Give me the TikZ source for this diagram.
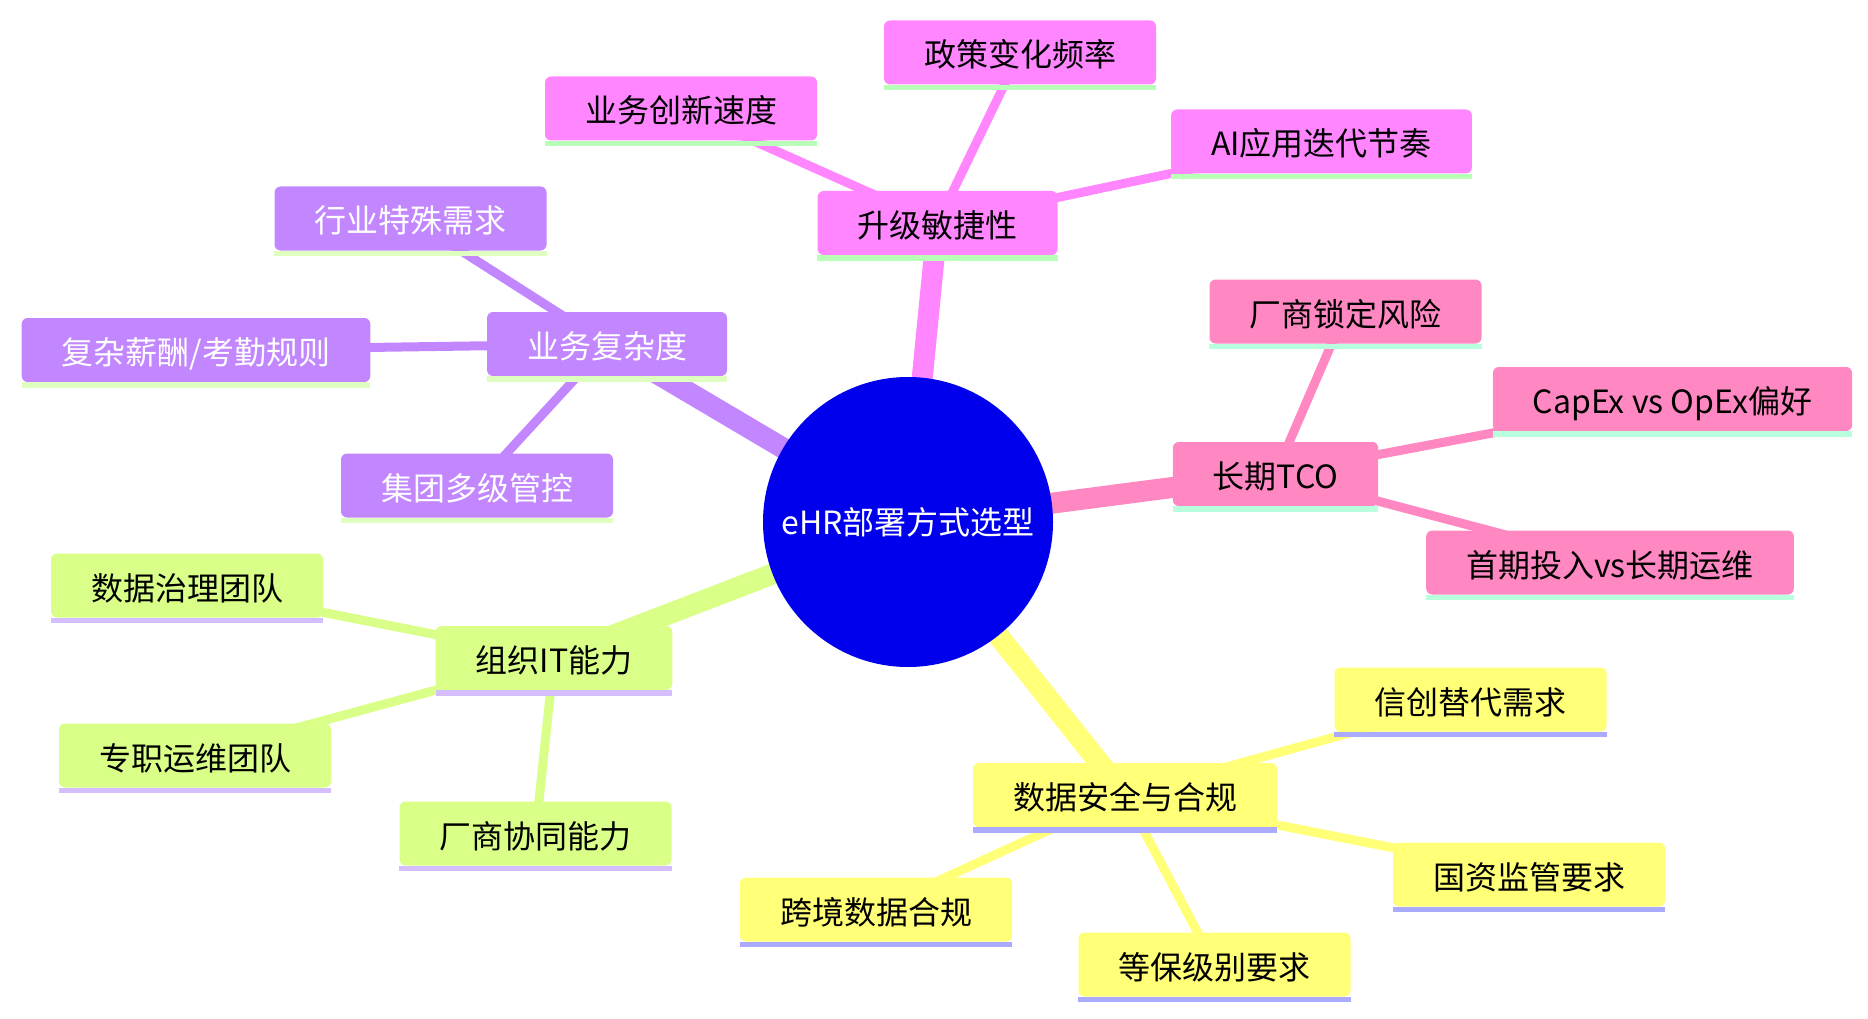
\documentclass[tikz,border=0pt]{standalone}
\usepackage{fontspec}
\newfontfamily\cjk{Noto Sans CJK SC}
\usetikzlibrary{backgrounds}
\definecolor{rootc}{RGB}{0,0,236}
\definecolor{purc}{RGB}{194,134,255}
\definecolor{purbar}{RGB}{222,255,192}
\definecolor{magc}{RGB}{255,134,255}
\definecolor{magbar}{RGB}{184,255,184}
\definecolor{pinkc}{RGB}{255,136,194}
\definecolor{pinkbar}{RGB}{184,255,222}
\definecolor{grnc}{RGB}{217,255,136}
\definecolor{grnbar}{RGB}{212,190,255}
\definecolor{yelc}{RGB}{255,255,120}
\definecolor{yelbar}{RGB}{170,170,255}
\tikzset{
  mm/.style={rounded corners=6, minimum height=64, inner xsep=40, inner ysep=0,
    text height=30, text depth=1,
    font=\cjk\fontsize{32}{38}\selectfont, anchor=center},
  purn/.style={mm, fill=purc, text=white},
  magn/.style={mm, fill=magc, text=black},
  pinkn/.style={mm, fill=pinkc, text=black},
  grnn/.style={mm, fill=grnc, text=black},
  yeln/.style={mm, fill=yelc, text=black},
  rootn/.style={circle, fill=rootc, text=white, minimum size=290, inner sep=0,
    font=\cjk\fontsize{32}{38}\selectfont},
  bar/.style={line width=5.5},
  rootedge/.style={line width=21},
  leafedge/.style={line width=9},
}
\newcommand{\mmbar}[2]{\draw[bar,#2] ([yshift=-2.75]#1.south west) -- ([yshift=-2.75]#1.south east);}
\begin{document}
\begin{tikzpicture}[x=1pt,y=-1pt]
\useasboundingbox (0,0) rectangle (1868,1019);
% root
\node[rootn] (root) at (908,522) {eHR部署方式选型};
% 升级敏捷性
\node[magn] (sj) at (937.5,223) {升级敏捷性};
\node[magn] (zc) at (1020,52.5) {政策变化频率};
\node[magn] (yw) at (681,108.5) {业务创新速度};
\node[magn] (ai) at (1321.5,141.5) {AI应用迭代节奏};
% 长期TCO
\node[pinkn] (tco) at (1275.5,474) {长期TCO};
\node[pinkn] (cs) at (1345.5,311.5) {厂商锁定风险};
\node[pinkn] (cap) at (1672.5,399) {CapEx vs OpEx偏好};
\node[pinkn] (sq) at (1610,562.5) {首期投入vs长期运维};
% 业务复杂度
\node[purn] (fz) at (607,344) {业务复杂度};
\node[purn] (hy) at (410.5,218.5) {行业特殊需求};
\node[purn] (xc) at (196,350) {复杂薪酬/考勤规则};
\node[purn] (jt) at (477,485.5) {集团多级管控};
% 组织IT能力
\node[grnn] (it) at (554,658) {组织IT能力};
\node[grnn] (zl) at (187,585.5) {数据治理团队};
\node[grnn] (yx) at (195,755.5) {专职运维团队};
\node[grnn] (xt) at (535.5,833.5) {厂商协同能力};
% 数据安全与合规
\node[yeln] (aq) at (1125,795) {数据安全与合规};
\node[yeln] (xcd) at (1470.5,699.5) {信创替代需求};
\node[yeln] (gz) at (1529,874.5) {国资监管要求};
\node[yeln] (kj) at (876,909.5) {跨境数据合规};
\node[yeln] (db) at (1214.5,964.5) {等保级别要求};
% bars
\mmbar{sj}{magbar}\mmbar{zc}{magbar}\mmbar{yw}{magbar}\mmbar{ai}{magbar}
\mmbar{tco}{pinkbar}\mmbar{cs}{pinkbar}\mmbar{cap}{pinkbar}\mmbar{sq}{pinkbar}
\mmbar{fz}{purbar}\mmbar{hy}{purbar}\mmbar{xc}{purbar}\mmbar{jt}{purbar}
\mmbar{it}{grnbar}\mmbar{zl}{grnbar}\mmbar{yx}{grnbar}\mmbar{xt}{grnbar}
\mmbar{aq}{yelbar}\mmbar{xcd}{yelbar}\mmbar{gz}{yelbar}\mmbar{kj}{yelbar}\mmbar{db}{yelbar}
\begin{pgfonlayer}{background}
\draw[rootedge,magc] (root.center) -- (sj.center);
\draw[rootedge,pinkc] (root.center) -- (tco.center);
\draw[rootedge,purc] (root.center) -- (fz.center);
\draw[rootedge,grnc] (root.center) -- (it.center);
\draw[rootedge,yelc] (root.center) -- (aq.center);
\draw[leafedge,magc] (sj.center) -- (zc.center);
\draw[leafedge,magc] (sj.center) -- (yw.center);
\draw[leafedge,magc] (sj.center) -- (ai.center);
\draw[leafedge,pinkc] (tco.center) -- (cs.center);
\draw[leafedge,pinkc] (tco.center) -- (cap.center);
\draw[leafedge,pinkc] (tco.center) -- (sq.center);
\draw[leafedge,purc] (fz.center) -- (hy.center);
\draw[leafedge,purc] (fz.center) -- (xc.center);
\draw[leafedge,purc] (fz.center) -- (jt.center);
\draw[leafedge,grnc] (it.center) -- (zl.center);
\draw[leafedge,grnc] (it.center) -- (yx.center);
\draw[leafedge,grnc] (it.center) -- (xt.center);
\draw[leafedge,yelc] (aq.center) -- (xcd.center);
\draw[leafedge,yelc] (aq.center) -- (gz.center);
\draw[leafedge,yelc] (aq.center) -- (kj.center);
\draw[leafedge,yelc] (aq.center) -- (db.center);
\end{pgfonlayer}
\end{tikzpicture}
\end{document}
